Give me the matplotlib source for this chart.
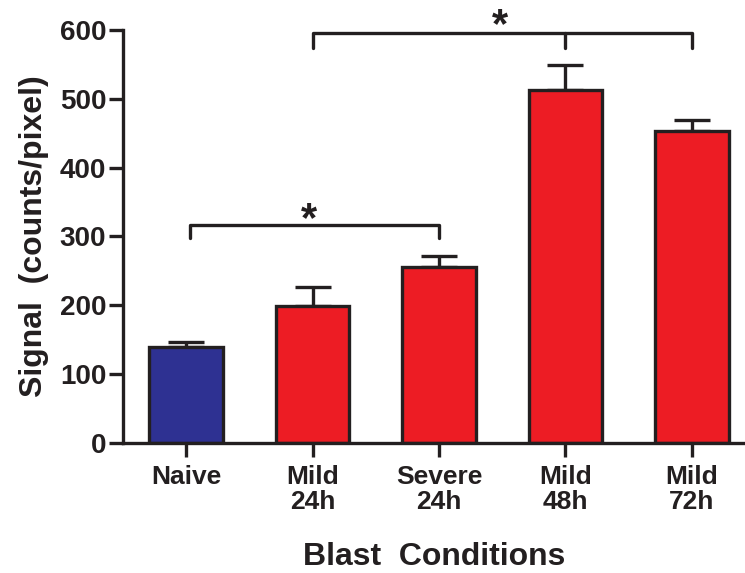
import matplotlib
matplotlib.use("Agg")
import matplotlib.pyplot as plt

categories = ["Naive", "Mild\n24h", "Severe\n24h", "Mild\n48h", "Mild\n72h"]
values = [139, 199, 255, 512, 453]
errors = [7, 28, 16, 37, 16]
colors = ["#2E3192", "#ED1C24", "#ED1C24", "#ED1C24", "#ED1C24"]
yticks = [0, 100, 200, 300, 400, 500, 600]

plt.rcParams['font.family'] = ['Liberation Sans', 'DejaVu Sans']
plt.rcParams['font.weight'] = 'bold'

fig = plt.figure(figsize=(7.45, 5.73), dpi=100)
ax = fig.add_axes([0.165, 0.227, 0.835, 0.721])
ec = "#231F20"
lw = 2.4
x = list(range(len(categories)))
ax.bar(x, values, width=0.58, color=colors, edgecolor=ec, linewidth=lw, zorder=2)
ax.errorbar(x, values, yerr=[[0]*len(errors), errors], fmt='none', ecolor=ec,
            elinewidth=lw, capsize=13, capthick=lw, zorder=1)

ax.set_xlim(-0.5, 4.42)
ax.set_ylim(0, 600)
ax.set_yticks(yticks)
ax.set_xticks(x)
ax.set_xticklabels(categories, fontsize=19, fontweight='bold', color=ec, linespacing=1.05)
ax.tick_params(axis='y', labelsize=20, width=lw, length=10, colors=ec, pad=2)
ax.tick_params(axis='x', width=lw, length=10, colors=ec, pad=6)
for lab in ax.get_yticklabels():
    lab.set_fontweight('bold')
for s in ['top', 'right']:
    ax.spines[s].set_visible(False)
for s in ['left', 'bottom']:
    ax.spines[s].set_linewidth(lw)
    ax.spines[s].set_color(ec)

ax.set_ylabel("Signal  (counts/pixel)", fontsize=23, fontweight='bold', color=ec, labelpad=8)
ax.set_xlabel("Blast  Conditions", fontsize=23, fontweight='bold', color=ec, labelpad=20)

# significance brackets
def bracket(x0, x1, y, drop, mids=()):
    ax.plot([x0, x0, x1, x1], [y - drop, y, y, y - drop], color=ec, lw=lw,
            clip_on=False, solid_joinstyle='round', solid_capstyle='round')
    for m in mids:
        ax.plot([m, m], [y, y - drop], color=ec, lw=lw, clip_on=False, solid_capstyle='round')

bracket(0.03, 2, 317, 19)
ax.text(0.97, 295, "*", ha='center', va='bottom', fontsize=30, fontweight='bold', color=ec)
bracket(1, 4, 596, 22, mids=(3,))
ax.text(2.48, 577, "*", ha='center', va='bottom', fontsize=30, fontweight='bold', color=ec, clip_on=False)

fig.savefig("out.png", dpi=100)
